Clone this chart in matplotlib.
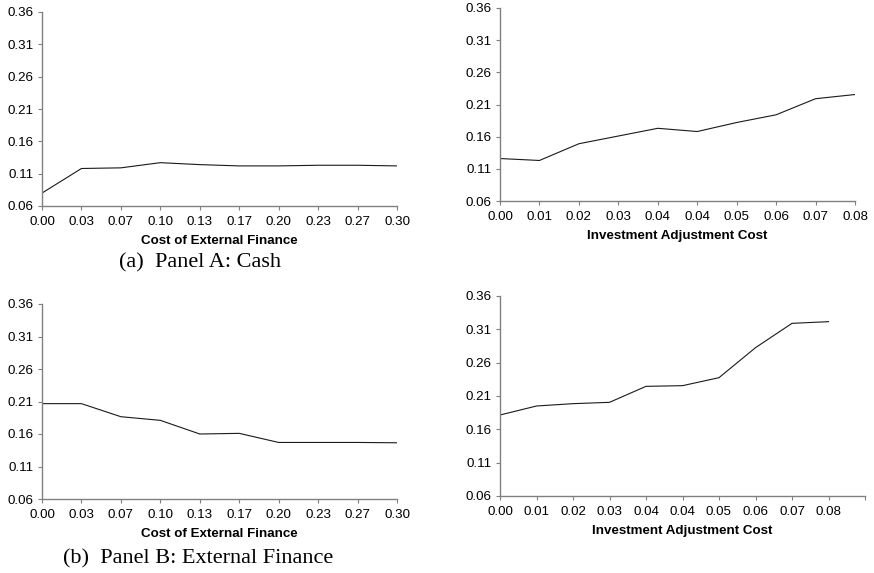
import matplotlib
matplotlib.use('Agg')
import matplotlib.pyplot as plt
import numpy as np

# categorical x labels (Excel-style)
FIN_LABELS = ['0.00', '0.03', '0.07', '0.10', '0.13', '0.17', '0.20', '0.23', '0.27', '0.30']
ADJ_LABELS = ['0.00', '0.01', '0.02', '0.03', '0.04', '0.04', '0.05', '0.06', '0.07', '0.08']
YTICKS = [0.06, 0.11, 0.16, 0.21, 0.26, 0.31, 0.36]

cash_fin = [0.080, 0.118, 0.119, 0.127, 0.124, 0.122, 0.122, 0.123, 0.123, 0.122]
cash_adj = [0.126, 0.123, 0.149, 0.161, 0.173, 0.168, 0.182, 0.194, 0.219, 0.2255]
ext_fin = [0.2067, 0.2067, 0.1866, 0.181, 0.160, 0.161, 0.147, 0.147, 0.147, 0.1465]
ext_adj = [0.1815, 0.195, 0.1985, 0.2005, 0.2245, 0.2255, 0.2375, 0.2825, 0.319, 0.3215]

W, H = 874, 573
fig = plt.figure(figsize=(W / 100, H / 100), dpi=100)
plt.rcParams['font.family'] = ['Liberation Sans', 'DejaVu Sans']


def panel(box, labels, vals, xlabel, extra=0):
    l, t, r, b = box
    ax = fig.add_axes([l / W, 1 - b / H, (r - l) / W, (b - t) / H])
    x = np.arange(len(vals))
    ax.plot(x, vals, color='#1a1a1a', lw=0.8)
    n = len(labels)
    ax.set_xlim(0, n - 1 + extra)
    ax.set_ylim(0.06, 0.36)
    ax.set_xticks(range(n + extra))
    ax.set_xticklabels(labels + [''] * extra, fontsize=9.6)
    ax.set_yticks(YTICKS)
    ax.set_yticklabels([f'{v:.2f}' for v in YTICKS], fontsize=9.6)
    for s in ['top', 'right']:
        ax.spines[s].set_visible(False)
    for s in ['left', 'bottom']:
        ax.spines[s].set_color('#808080')
        ax.spines[s].set_linewidth(1.0)
    ax.tick_params(direction='out', length=3, width=0.8, color='#808080', pad=3)
    ax.tick_params(axis='x', pad=4)
    ax.set_xlabel(xlabel, fontsize=9.6, fontweight='bold', labelpad=5)
    return ax


panel((42, 12, 397, 206), FIN_LABELS, cash_fin, 'Cost of External Finance')
panel((500, 8, 855, 201), ADJ_LABELS, cash_adj, 'Investment Adjustment Cost')
panel((42, 304, 397, 499), FIN_LABELS, ext_fin, 'Cost of External Finance')
panel((500, 296, 865, 496), ADJ_LABELS, ext_adj, 'Investment Adjustment Cost', extra=1)

cap = dict(fontsize=16, family=['Liberation Serif', 'DejaVu Serif'], ha='center', va='center')
fig.text(200 / W, 1 - 263 / H, '(a)  Panel A: Cash', **cap)
fig.text(198 / W, 1 - 559 / H, '(b)  Panel B: External Finance', **cap)

fig.savefig('out.png', dpi=100, facecolor='white')
